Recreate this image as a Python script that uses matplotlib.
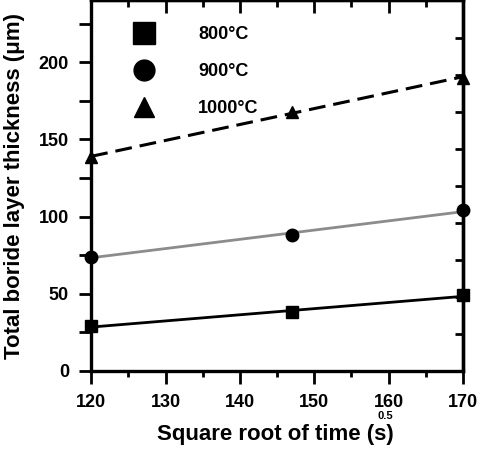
import numpy as np
import matplotlib
matplotlib.use("Agg")
import matplotlib.pyplot as plt
from matplotlib.lines import Line2D

plt.rcParams['font.family'] = ['Liberation Sans', 'DejaVu Sans']
plt.rcParams['font.weight'] = 'bold'

x = [120, 147, 170]
t800 = [29, 38, 49]
t900 = [74, 88, 104]
t1000 = [138.5, 168, 190]
labels = ["800°C", "900°C", "1000°C"]
xticks = [120, 130, 140, 150, 160, 170]
yticks = [0, 50, 100, 150, 200]

fig = plt.figure(figsize=(4.8, 4.51), dpi=100)
ax = fig.add_axes([0.19, 0.1774, 0.7746, 0.8216])

series = [(t800, 's', '-', 9), (t900, 'o', '-', 9), (t1000, '^', '--', 9)]
line_colors = ['black', '#8c8c8c', 'black']
for (ys, m, ls, ms), lc in zip(series, line_colors):
    k, b = np.polyfit(x, ys, 1)
    xx = np.array([x[0], x[-1]])
    if ls == '--':
        ax.plot(xx, k * xx + b, color=lc, lw=2.2, dashes=(5.5, 2.6), zorder=2)
    else:
        ax.plot(xx, k * xx + b, color=lc, lw=2, zorder=2)
    ax.plot(x, ys, ls='none', marker=m, color='black', ms=ms, clip_on=False, zorder=3)

ax.set_xlim(120, 170)
ax.set_ylim(0, 240)
ax.set_xticks(xticks)
ax.set_yticks(yticks)
ax.set_xticks(np.arange(125, 170, 10), minor=True)
ax.set_yticks(np.arange(25, 240, 50), minor=True)
ax.tick_params(axis='x', which='major', labelsize=13, width=2, length=9.5, pad=7, direction='out')
ax.tick_params(axis='x', which='minor', width=2, length=4.5, direction='out')
ax.tick_params(axis='y', which='major', labelsize=13, width=2, length=9, pad=7, direction='out')
ax.tick_params(axis='y', which='minor', width=2, length=9, direction='out')
for t in ax.get_xticklabels() + ax.get_yticklabels():
    t.set_fontweight('bold')
for s in ax.spines.values():
    s.set_linewidth(2.4)

# top ticks inward
ax2 = ax.secondary_xaxis('top')
ax2.set_xticks(xticks)
ax2.set_xticks(np.arange(125, 170, 10), minor=True)
ax2.tick_params(which='major', direction='in', width=2, length=9)
ax2.tick_params(which='minor', direction='in', width=2, length=5)
ax2.set_xticklabels([])
ax2.spines['top'].set_linewidth(2.4)
# right ticks inward
ax3 = ax.secondary_yaxis('right')
ax3.set_yticks(np.arange(24, 240, 24))
ax3.tick_params(direction='in', width=2, length=6)
ax3.set_yticklabels([])
ax3.spines['right'].set_linewidth(2.4)

ax.set_xlabel("Square root of time (s)", fontsize=16, fontweight='bold')
ax.xaxis.set_label_coords(0.4946, -0.142)
ax.set_ylabel("Total boride layer thickness (μm)", fontsize=16, fontweight='bold')
ax.yaxis.set_label_coords(-0.177, 0.499)
fig.text(385 / 480, 1 - 416 / 451, "0.5", fontsize=8, fontweight='bold', ha='center', va='center')

handles = [Line2D([], [], ls='none', marker=m, color='black', ms=s)
           for m, s in zip(['s', 'o', '^'], [16, 15, 15])]
ax.legend(handles, labels, loc='upper left', frameon=False,
          bbox_to_anchor=(0.05, 0.9736), labelspacing=1.1, handletextpad=2.0,
          prop={'weight': 'bold', 'size': 13})

fig.savefig("out.png", dpi=100)
